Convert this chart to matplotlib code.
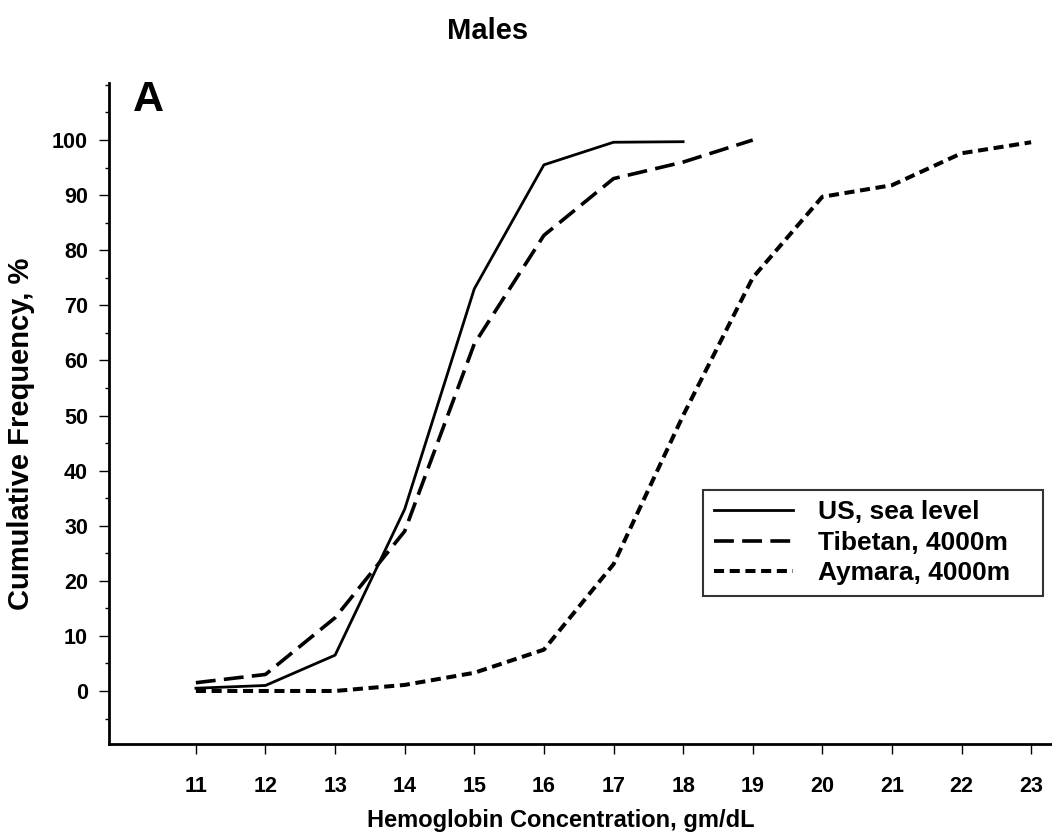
import numpy as np
import matplotlib.pyplot as plt
from matplotlib.ticker import MultipleLocator

plt.rcParams['font.family'] = ['Liberation Sans', 'DejaVu Sans']
plt.rcParams['font.weight'] = 'bold'

# hemoglobin concentration, gm/dL
us_x = [11, 12, 13, 14, 15, 16, 17, 18]
us_y = [0.5, 1.0, 6.5, 33, 73, 95.5, 99.6, 99.7]

tib_x = [11, 12, 13, 14, 15, 16, 17, 18, 19]
tib_y = [1.5, 3.0, 13.3, 29, 63, 82.7, 93, 96, 100]

aym_x = [11, 12, 13, 14, 15, 16, 17, 18, 19, 20, 21, 22, 23]
aym_y = [0, 0, 0, 1.1, 3.3, 7.5, 23, 50, 75, 89.7, 91.8, 97.6, 99.6]

labels = ["US, sea level", "Tibetan, 4000m", "Aymara, 4000m"]


def main():
    fig = plt.figure(figsize=(10.52, 8.33), dpi=100)
    ax = fig.add_axes([0.1035, 0.107, 0.8965, 0.793])

    ax.plot(us_x, us_y, color="black", lw=2.0, label=labels[0])
    ax.plot(tib_x, tib_y, color="black", lw=2.6, dashes=(5.5, 2.3),
            label=labels[1])
    ax.plot(aym_x, aym_y, color="black", lw=2.9, dashes=(2.5, 1.4),
            label=labels[2])

    ax.set_xlim(9.75, 23.3)
    ax.set_ylim(-9.6, 110.3)
    ax.set_xticks(np.arange(11, 24, 1))
    ax.set_yticks(np.arange(0, 101, 10))
    ax.yaxis.set_minor_locator(MultipleLocator(5))

    for side in ("top", "right"):
        ax.spines[side].set_visible(False)
    ax.spines["left"].set_linewidth(2.0)
    ax.spines["bottom"].set_linewidth(2.0)

    ax.tick_params(axis="x", direction="out", length=7, width=1.0,
                   pad=16, labelsize=15.5)
    ax.tick_params(axis="y", which="major", direction="out", length=7,
                   width=1.0, pad=8, labelsize=15.5)
    ax.tick_params(axis="y", which="minor", direction="out", length=3,
                   width=1.0)

    ax.set_xlabel("Hemoglobin Concentration, gm/dL", fontsize=17,
                  fontweight="bold")
    ax.xaxis.set_label_coords(0.479, -0.099)
    ax.set_ylabel("Cumulative Frequency, %", fontsize=21,
                  fontweight="bold")
    ax.yaxis.set_label_coords(-0.078, 0.47)

    ax.text(0.025, 1.005, "A", transform=ax.transAxes, fontsize=31,
            fontweight="bold", va="top", ha="left")
    fig.text(0.463, 0.963, "Males", fontsize=21, fontweight="bold",
             ha="center", va="center")

    leg = ax.legend(loc="lower left", bbox_to_anchor=(0.630, 0.224, 0.3605, 0.1),
                    mode="expand", frameon=True, fancybox=False,
                    edgecolor="black", fontsize=19, handlelength=3.0,
                    handletextpad=0.95, borderpad=0.4, labelspacing=0.25,
                    borderaxespad=0)
    leg.get_frame().set_linewidth(1.5)

    fig.savefig("out.png", dpi=100, facecolor="white")


if __name__ == "__main__":
    main()
